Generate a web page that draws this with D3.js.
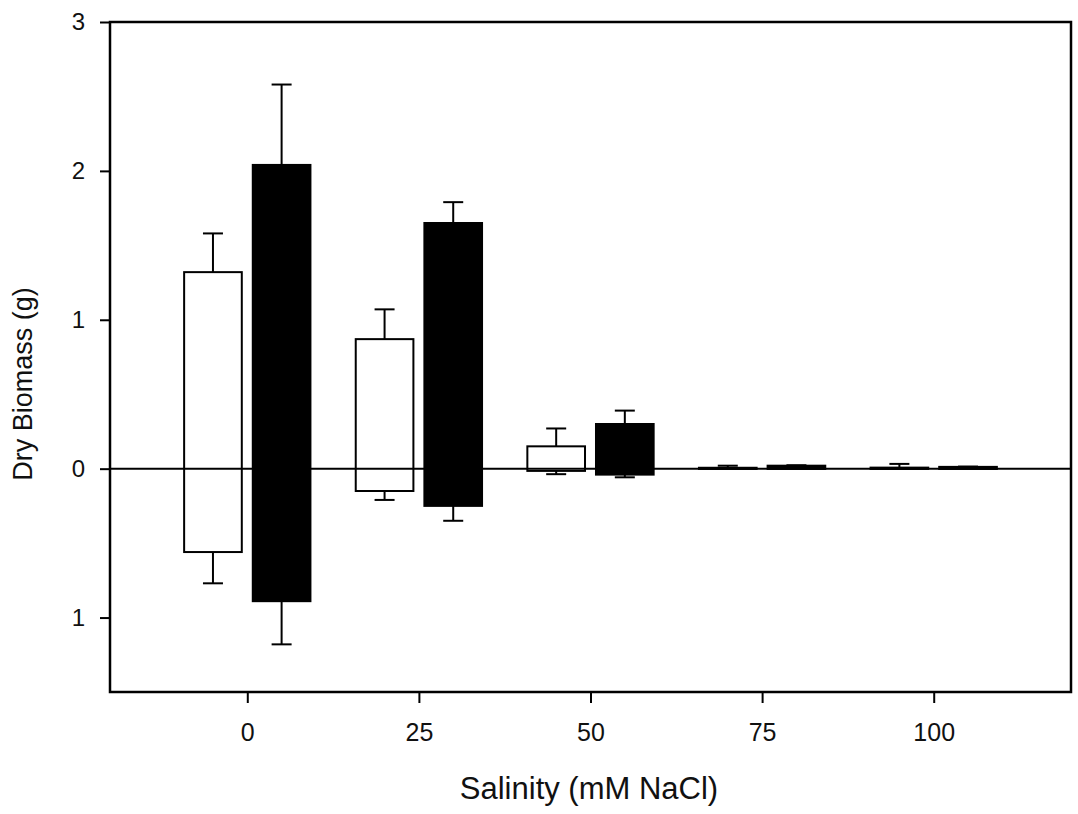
<!DOCTYPE html>
<html>
<head>
<meta charset="utf-8">
<script src="https://cdn.jsdelivr.net/npm/d3@7"></script>
<style>
  html, body { margin: 0; padding: 0; background: #fff; }
  svg { display: block; }
</style>
</head>
<body>
<svg id="chart" width="1078" height="814"></svg>
<script>
// Salinity treatments (mM NaCl)
const salinity = [0, 25, 50, 75, 100];

// Open bars: shoot (above zero) and root (below zero), with SE
const openShoot    = [1.32, 0.87, 0.15, 0.006, 0.007];
const openShootErr = [0.26, 0.20, 0.12, 0.014, 0.025];
const openRoot     = [0.56, 0.15, 0.015, 0.002, 0.002];
const openRootErr  = [0.21, 0.06, 0.022, 0.0, 0.0];

// Filled bars: shoot (above zero) and root (below zero), with SE
const filledShoot    = [2.04, 1.65, 0.30, 0.02, 0.012];
const filledShootErr = [0.54, 0.14, 0.09, 0.003, 0.002];
const filledRoot     = [0.89, 0.25, 0.04, 0.002, 0.002];
const filledRootErr  = [0.29, 0.10, 0.018, 0.0, 0.0];

const yTicks = [-1, 0, 1, 2, 3];

const FONT = "Liberation Sans, Arial, sans-serif";
const svg = d3.select("#chart");
const plotLeft = 110, plotRight = 1071, plotTop = 22, plotBottom = 692;

const x = d3.scaleLinear().domain([-20, 120]).range([plotLeft, plotRight]);
const y = d3.scaleLinear().domain([-1.5, 3]).range([plotBottom, plotTop]);

const offset = 5;      // salinity units from tick to bar centre
const barW = 8.4;      // bar width in salinity units

const series = [
  { shoot: openShoot, shootErr: openShootErr, root: openRoot, rootErr: openRootErr, dx: -offset, fill: "#fff" },
  { shoot: filledShoot, shootErr: filledShootErr, root: filledRoot, rootErr: filledRootErr, dx: offset, fill: "#000" }
];

const plot = svg.append("g");

series.forEach(s => {
  const rows = salinity.map((v, i) => ({
    s: v, up: s.shoot[i], upE: s.shootErr[i], dn: -s.root[i], dnE: s.rootErr[i]
  }));
  const cx = d => x(d.s + s.dx);
  const w = x(barW) - x(0);

  // whiskers
  const g = plot.append("g").attr("stroke", "#000").attr("stroke-width", 2).attr("fill", "none");
  rows.filter(d => d.upE > 0).forEach(d => {
    g.append("line").attr("x1", cx(d)).attr("x2", cx(d)).attr("y1", y(d.up)).attr("y2", y(d.up + d.upE));
    g.append("line").attr("x1", cx(d) - 10).attr("x2", cx(d) + 10).attr("y1", y(d.up + d.upE)).attr("y2", y(d.up + d.upE));
  });
  rows.filter(d => d.dnE > 0).forEach(d => {
    g.append("line").attr("x1", cx(d)).attr("x2", cx(d)).attr("y1", y(d.dn)).attr("y2", y(d.dn - d.dnE));
    g.append("line").attr("x1", cx(d) - 10).attr("x2", cx(d) + 10).attr("y1", y(d.dn - d.dnE)).attr("y2", y(d.dn - d.dnE));
  });

  // bars spanning root (below) to shoot (above)
  plot.append("g").selectAll("rect").data(rows).join("rect")
    .attr("x", d => cx(d) - w / 2)
    .attr("width", w)
    .attr("y", d => y(d.up))
    .attr("height", d => y(d.dn) - y(d.up))
    .attr("fill", s.fill)
    .attr("stroke", "#000")
    .attr("stroke-width", 2);
});

// zero reference line
svg.append("line")
  .attr("x1", plotLeft).attr("x2", plotRight)
  .attr("y1", y(0)).attr("y2", y(0))
  .attr("stroke", "#000").attr("stroke-width", 2);

// frame
svg.append("rect")
  .attr("x", plotLeft).attr("y", plotTop)
  .attr("width", plotRight - plotLeft).attr("height", plotBottom - plotTop)
  .attr("fill", "none").attr("stroke", "#000").attr("stroke-width", 2.5);

// y axis (values below zero are labelled by magnitude)
const yAxis = svg.append("g")
  .attr("transform", `translate(${plotLeft},0)`)
  .call(d3.axisLeft(y).tickValues(yTicks).tickSize(10).tickPadding(15)
    .tickFormat(d => String(Math.abs(d))));
yAxis.attr("font-size", 24).attr("font-family", FONT);
yAxis.select(".domain").remove();
yAxis.selectAll("line").attr("stroke", "#000").attr("stroke-width", 2);
yAxis.selectAll("text").attr("fill", "#111");

// x axis
const xAxis = svg.append("g")
  .attr("transform", `translate(0,${plotBottom})`)
  .call(d3.axisBottom(x).tickValues(salinity).tickSize(11).tickPadding(20));
xAxis.attr("font-size", 25).attr("font-family", FONT);
xAxis.select(".domain").remove();
xAxis.selectAll("line").attr("stroke", "#000").attr("stroke-width", 2);
xAxis.selectAll("text").attr("fill", "#111");

// axis titles
svg.append("text")
  .attr("x", 589).attr("y", 799)
  .attr("text-anchor", "middle")
  .attr("font-size", 31)
  .attr("font-family", FONT)
  .attr("fill", "#111")
  .text("Salinity (mM NaCl)");

svg.append("text")
  .attr("transform", "translate(32,384) rotate(-90)")
  .attr("text-anchor", "middle")
  .attr("font-size", 27)
  .attr("font-family", FONT)
  .attr("fill", "#111")
  .text("Dry Biomass (g)");
</script>
</body>
</html>
